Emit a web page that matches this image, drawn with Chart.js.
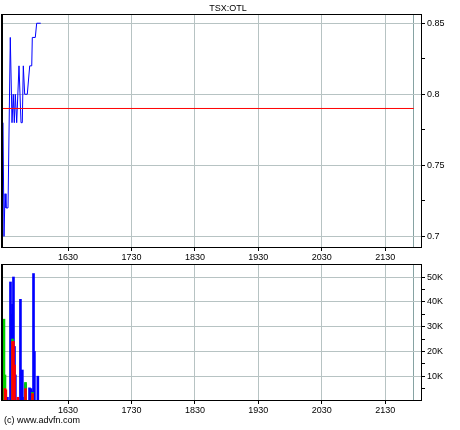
<!DOCTYPE html>
<html><head><meta charset="utf-8">
<script src="https://cdn.jsdelivr.net/npm/chart.js@4/dist/chart.umd.min.js"></script>
<style>
html,body{margin:0;padding:0;background:#fff;width:460px;height:430px;overflow:hidden;}
#wrap{position:relative;width:460px;height:430px;}
canvas{position:absolute;left:0;}
#c1{top:0;} #c2{top:250px;}
.txt{position:absolute;font-family:"Liberation Sans",Arial,sans-serif;font-size:9px;color:#000;white-space:nowrap;line-height:10px;}
#title{left:0;width:456px;top:3px;text-align:center;}
#copy{left:4px;top:415px;}
</style></head><body>
<div id="wrap">
<canvas id="c1" width="460" height="265"></canvas>
<canvas id="c2" width="460" height="180"></canvas>
<div class="txt" id="title">TSX:OTL</div>
<div class="txt" id="copy">(c) www.advfn.com</div>
</div>
<script>
// ---- data ----
const timeMin = 1527.5;
const timeMax = 2188;
const timeTicks = [1630, 1730, 1830, 1930, 2030, 2130];
const sessionEnd = 2175;

const priceX = [1527.5, 1529.1, 1530.7, 1532.2, 1535.4, 1539, 1541.7, 1543.7, 1545.3, 1546.9, 1549.1, 1552.7, 1555.9, 1557.9, 1559.5, 1561.7, 1565.8, 1569.6, 1572.8, 1573.7, 1578.4, 1580.6, 1587];
const priceY = [0.78, 0.70, 0.73, 0.72, 0.72, 0.84, 0.78, 0.80, 0.78, 0.80, 0.78, 0.82, 0.78, 0.78, 0.82, 0.80, 0.80, 0.82, 0.82, 0.84, 0.84, 0.85, 0.85];
const refLevel = 0.79;
const refFrom = 1527.5;
const refTo = 2175;
const priceMin = 0.6918;
const priceMax = 0.8565;
const priceTicks = [0.7, 0.725, 0.75, 0.775, 0.8, 0.825, 0.85];
const priceLabels = ['0.7', '', '0.75', '', '0.8', '', '0.85'];

const volX = [1529, 1530.6, 1532, 1534.5, 1539.3, 1541, 1542.5, 1544, 1545.6, 1547, 1551, 1555, 1558, 1561.4, 1563, 1569.3, 1571.7, 1574, 1575.6, 1577, 1582.4];
const volBlue = [0, 0, 0, 1500, 48000, 35000, 39000, 50000, 22000, 10500, 0, 41000, 12500, 1500, 7000, 5300, 5000, 4000, 51400, 20000, 10000];
const volRed = [0, 5000, 4500, 0, 0, 0, 24000, 24000, 14500, 0, 1500, 0, 0, 0, 5000, 0, 0, 3000, 0, 0, 0];
const volGreen = [33000, 10500, 0, 0, 0, 0, 25000, 0, 0, 0, 0, 0, 0, 0, 7500, 0, 0, 3500, 0, 0, 0];
const volMin = 0;
const volMax = 55250;
const volTicks = [5000, 10000, 15000, 20000, 25000, 30000, 35000, 40000, 45000, 50000];
const volLabels = ['', '10K', '', '20K', '', '30K', '', '40K', '', '50K'];

// ---- styling ----
const FONT = {family: '"Liberation Sans", Arial, sans-serif', size: 9};
const GRID = '#b7c3c3';
const GRID_END = '#86a3a3';

const frame = {
  id: 'frame',
  afterDraw(c) {
    const a = c.chartArea, g = c.ctx;
    g.save();
    g.strokeStyle = '#000';
    g.lineWidth = 1;
    g.beginPath();
    g.moveTo(a.left - 0.5, a.top + 0.5); g.lineTo(a.right - 0.5, a.top + 0.5);
    g.moveTo(a.right - 0.5, a.top); g.lineTo(a.right - 0.5, a.bottom);
    g.moveTo(a.left - 0.5, a.bottom - 0.5); g.lineTo(a.right, a.bottom - 0.5);
    g.stroke();
    g.lineWidth = 2;
    g.beginPath();
    g.moveTo(a.left - 1, a.top); g.lineTo(a.left - 1, a.bottom);
    g.stroke();
    g.restore();
  }
};

function xScale(h) {
  return {
    type: 'linear', min: timeMin, max: timeMax, offset: false,
    afterBuildTicks: s => { s.ticks = timeTicks.concat([sessionEnd]).map(v => ({value: v})); },
    ticks: {autoSkip: false, maxRotation: 0, padding: 1, color: '#000', font: FONT,
      callback: v => timeTicks.includes(v) ? String(v) : ''},
    grid: {offset: false, color: ctx => (ctx.tick && ctx.tick.value === sessionEnd) ? GRID_END : GRID,
      tickColor: ctx => (ctx.tick && ctx.tick.value === sessionEnd) ? 'rgba(0,0,0,0)' : '#000',
      tickLength: 3, lineWidth: 1},
    border: {display: false},
    afterFit: s => { s.height = h; }
  };
}
function yScale(min, max, ticks, labels) {
  return {
    position: 'right', min: min, max: max,
    afterBuildTicks: s => { s.ticks = ticks.map(v => ({value: v})); },
    ticks: {autoSkip: false, padding: 2, color: '#000', font: FONT,
      callback: (v, i) => labels[i]},
    grid: {color: ctx => labels[ctx.index] ? GRID : 'rgba(0,0,0,0)', tickColor: '#000', tickLength: 3},
    border: {display: false},
    afterFit: s => { s.width = 38; }
  };
}
const common = {
  responsive: false, animation: false, devicePixelRatio: 1,
  plugins: {legend: {display: false}, tooltip: {enabled: false}, title: {display: false}},
  events: []
};

new Chart(document.getElementById('c1'), {
  type: 'line',
  data: {datasets: [
    {data: [{x: refFrom, y: refLevel}, {x: refTo, y: refLevel}], borderColor: '#ff0000', borderWidth: 1, pointRadius: 0, tension: 0},
    {data: priceX.map((x, i) => ({x: x, y: priceY[i]})), borderColor: '#0000ff', borderWidth: 1, pointRadius: 0, tension: 0}
  ]},
  options: Object.assign({}, common, {
    layout: {padding: {left: 3, top: 14, right: 0, bottom: 0}},
    scales: {x: xScale(17), y: yScale(priceMin, priceMax, priceTicks, priceLabels)}
  }),
  plugins: [frame]
});

const mk = arr => volX.map((x, i) => ({x: x, y: arr[i]}));
new Chart(document.getElementById('c2'), {
  type: 'bar',
  data: {datasets: [
    {data: mk(volRed), backgroundColor: '#ff0000', barThickness: 2, grouped: false},
    {data: mk(volGreen), backgroundColor: '#00d000', barThickness: 2, grouped: false},
    {data: mk(volBlue), backgroundColor: '#0000ff', barThickness: 2, grouped: false}
  ]},
  options: Object.assign({}, common, {
    layout: {padding: {left: 3, top: 14, right: 0, bottom: 0}},
    scales: {x: xScale(29), y: yScale(volMin, volMax, volTicks, volLabels)}
  }),
  plugins: [frame]
});
</script>
</body></html>
